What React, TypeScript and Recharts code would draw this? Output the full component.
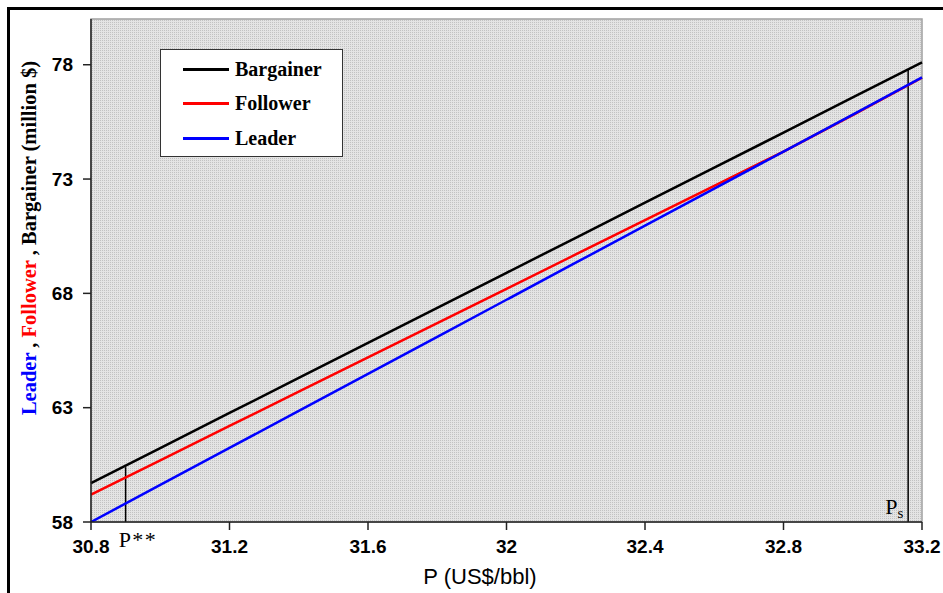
import {
  Legend,
  Line,
  LineChart,
  ReferenceArea,
  ReferenceLine,
  XAxis,
  YAxis,
} from "recharts";

// 가격 (US$/bbl)
const prices = [30.8, 31.0, 31.2, 31.4, 31.6, 31.8, 32.0, 32.2, 32.4, 32.6, 32.8, 33.0, 33.2];
const bargainer = [59.7, 61.23, 62.77, 64.3, 65.83, 67.37, 68.9, 70.43, 71.97, 73.5, 75.03, 76.57, 78.1];
const follower = [59.2, 60.7, 62.2, 63.7, 65.2, 66.7, 68.2, 69.7, 71.2, 72.7, 74.2, 75.8, 77.43];
const leader = [58.0, 59.62, 61.24, 62.86, 64.48, 66.1, 67.72, 69.34, 70.96, 72.58, 74.2, 75.82, 77.45];

const xTicks = [30.8, 31.2, 31.6, 32, 32.4, 32.8, 33.2];
const yTicks = [58, 63, 68, 73, 78];

const seriesNames = ["Bargainer", "Follower", "Leader"];
const seriesColors = ["#000000", "#ff0000", "#0000ff"];

// P** 와 Ps 표시선
const pStar = { x: 30.9, top: 60.4 };
const pS = { x: 33.16, top: 77.8 };

const data = prices.map((p, i) => ({
  p,
  Bargainer: bargainer[i],
  Follower: follower[i],
  Leader: leader[i],
}));

const serif = "'Liberation Serif', 'Times New Roman', serif";
const sans = "'Liberation Sans', Arial, sans-serif";

function LegendBox() {
  return (
    <div
      style={{
        width: 183,
        height: 108,
        background: "#fff",
        border: "1.5px solid #333",
        boxSizing: "border-box",
        paddingTop: 2,
      }}
    >
      {seriesNames.map((name, i) => (
        <div
          key={name}
          style={{ display: "flex", alignItems: "center", height: 34.5 }}
        >
          <div
            style={{
              marginLeft: 22,
              width: 46,
              height: 3,
              background: seriesColors[i],
            }}
          />
          <span
            style={{
              marginLeft: 6,
              fontFamily: serif,
              fontWeight: "bold",
              fontSize: 20,
              color: "#000",
            }}
          >
            {name}
          </span>
        </div>
      ))}
    </div>
  );
}

function YLabel() {
  const cx = 29;
  const cy = 238;
  return (
    <text
      x={cx}
      y={cy}
      transform={`rotate(-90, ${cx}, ${cy})`}
      textAnchor="middle"
      dominantBaseline="central"
      fontFamily={serif}
      fontWeight="bold"
      fontSize={20.5}
    >
      <tspan fill="#0000ff">Leader</tspan>
      <tspan fill="#000"> , </tspan>
      <tspan fill="#ff0000">Follower</tspan>
      <tspan fill="#000"> , Bargainer (million $)</tspan>
    </text>
  );
}

function XLabel() {
  return (
    <text
      x={480}
      y={584}
      textAnchor="middle"
      fontFamily={sans}
      fontSize={22}
      fill="#000"
    >
      P (US$/bbl)
    </text>
  );
}

function PStarLabel(props: any) {
  const vb = props.viewBox || {};
  const x = vb.x ?? 125;
  const bottom = (vb.y ?? 468) + (vb.height ?? 54);
  return (
    <text
      x={x - 7}
      y={bottom + 25}
      fontFamily={serif}
      fontSize={22}
      letterSpacing={1.5}
      fill="#000"
    >
      P**
    </text>
  );
}

function PSLabel(props: any) {
  const vb = props.viewBox || {};
  const x = vb.x ?? 907;
  const bottom = (vb.y ?? 66) + (vb.height ?? 456);
  return (
    <text x={x - 23} y={bottom - 8} fontFamily={serif} fontSize={22} fill="#000">
      P
      <tspan fontSize={15} dy={4}>
        s
      </tspan>
    </text>
  );
}

export default function App() {
  return (
    <div style={{ position: "absolute", left: 0, top: 0, width: 943, height: 593 }}>
      {/* 바깥 테두리 */}
      <div
        style={{
          position: "absolute",
          left: 7,
          top: 7,
          width: 940,
          height: 590,
          borderTop: "3px solid #000",
          borderLeft: "3px solid #000",
        }}
      />
      <div style={{ position: "absolute", left: 0, top: 0 }}>
        <LineChart
          width={943}
          height={593}
          data={data}
          margin={{ top: 19, right: 21, bottom: 0, left: 0 }}
        >
          <defs>
            <pattern id="dots" width="2" height="2" patternUnits="userSpaceOnUse">
              <rect width="2" height="2" fill="#e4e4e4" />
              <rect width="1" height="1" fill="#c2c2c2" />
            </pattern>
          </defs>
          <ReferenceArea
            x1={30.8}
            x2={33.2}
            y1={58}
            y2={80}
            fill="url(#dots)"
            fillOpacity={1}
            stroke="#a0a0a0"
            strokeWidth={1.5}
          />
          <XAxis
            dataKey="p"
            type="number"
            domain={[30.8, 33.2]}
            ticks={xTicks}
            height={71}
            tickSize={8}
            tickMargin={10}
            stroke="#222"
            strokeWidth={1.5}
            tick={{ fill: "#000", fontFamily: sans, fontSize: 19, fontWeight: "bold" }}
            label={<XLabel />}
          />
          <YAxis
            type="number"
            domain={[58, 80]}
            ticks={yTicks}
            width={91}
            tickSize={8}
            tickMargin={10}
            stroke="#222"
            strokeWidth={1.5}
            allowDataOverflow
            tick={{ fill: "#000", fontFamily: sans, fontSize: 19, fontWeight: "bold" }}
            label={<YLabel />}
          />
          <ReferenceLine
            segment={[
              { x: pStar.x, y: 58 },
              { x: pStar.x, y: pStar.top },
            ]}
            stroke="#000"
            strokeWidth={1.5}
            label={<PStarLabel />}
          />
          <ReferenceLine
            segment={[
              { x: pS.x, y: 58 },
              { x: pS.x, y: pS.top },
            ]}
            stroke="#000"
            strokeWidth={1.5}
            label={<PSLabel />}
          />
          {seriesNames.map((name, i) => (
            <Line
              key={name}
              type="linear"
              dataKey={name}
              stroke={seriesColors[i]}
              strokeWidth={2.5}
              dot={false}
              activeDot={false}
              isAnimationActive={false}
            />
          ))}
          <Legend
            layout="vertical"
            align="center"
            verticalAlign="middle"
            wrapperStyle={{ left: 160, top: 49, width: 183 }}
            content={() => <LegendBox />}
          />
        </LineChart>
      </div>
    </div>
  );
}
